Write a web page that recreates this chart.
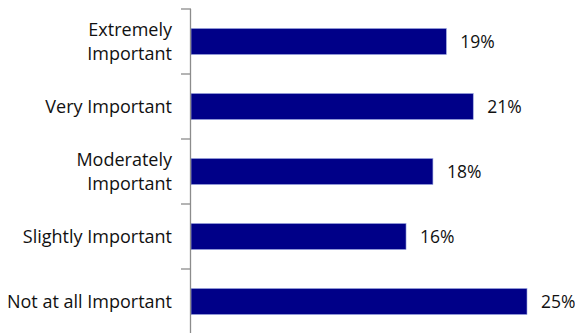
<!DOCTYPE html>
<html>
<head>
<meta charset="utf-8">
<script src="https://cdn.jsdelivr.net/npm/d3@7"></script>
<style>
  body { margin: 0; background: #fff; }
  svg text { font-family: 'Open Sans', sans-serif; fill: #111; }
</style>
</head>
<body>
<div id="chart"></div>
<script>
const categories = [
  ['Extremely', 'Important'],
  ['Very Important'],
  ['Moderately', 'Important'],
  ['Slightly Important'],
  ['Not at all Important'],
];
const values = [19, 21, 18, 16, 25];
const valueLabels = ['19%', '21%', '18%', '16%', '25%'];

const width = 575;
const height = 333;
const margin = { top: 9, right: 48, bottom: -1, left: 191 };

const svg = d3
  .select('#chart')
  .append('svg')
  .attr('width', width)
  .attr('height', height);

const keys = categories.map((c, i) => i);

const y = d3
  .scaleBand()
  .domain(keys)
  .range([margin.top, height - margin.bottom])
  .paddingInner(0.6)
  .paddingOuter(0.3);

const x = d3
  .scaleLinear()
  .domain([0, 25])
  .range([margin.left, width - margin.right]);

// bars
svg
  .selectAll('.bar')
  .data(values)
  .enter()
  .append('rect')
  .attr('class', 'bar')
  .attr('x', x(0))
  .attr('y', (d, i) => y(i))
  .attr('width', (d) => x(d) - x(0))
  .attr('height', y.bandwidth())
  .attr('fill', '#000088')
  .attr('stroke', '#9aa6e0')
  .attr('stroke-width', 0.6);

// value labels
svg
  .selectAll('.val')
  .data(values)
  .enter()
  .append('text')
  .attr('class', 'val')
  .attr('x', (d) => x(d) + 14)
  .attr('y', (d, i) => y(i) + y.bandwidth() / 2)
  .attr('dy', '0.36em')
  .style('font-size', '17.5px')
  .text((d, i) => valueLabels[i]);

// axis line and ticks between categories
const step = y.step();
const axis = svg.append('g').attr('stroke', '#8c8c8c').attr('stroke-width', 1.3);
axis
  .append('line')
  .attr('x1', x(0) - 0.5)
  .attr('x2', x(0) - 0.5)
  .attr('y1', margin.top)
  .attr('y2', height);

const tickYs = d3.range(keys.length + 1).map((i) => margin.top + i * step);
axis
  .selectAll('.tick')
  .data(tickYs)
  .enter()
  .append('line')
  .attr('x1', x(0) - 10)
  .attr('x2', x(0))
  .attr('y1', (d) => d)
  .attr('y2', (d) => d);

// category labels
const lineH = 24;
const cats = svg
  .selectAll('.cat')
  .data(categories)
  .enter()
  .append('text')
  .attr('class', 'cat')
  .attr('text-anchor', 'end')
  .style('font-size', '18px')
  .attr('transform', (d, i) => 'translate(172,' + (y(i) + y.bandwidth() / 2) + ')');

cats
  .selectAll('tspan')
  .data((d) => d.map((t, j) => ({ t, j, n: d.length })))
  .enter()
  .append('tspan')
  .attr('x', 0)
  .attr('y', (d) => (d.j - (d.n - 1) / 2) * lineH)
  .attr('dy', '0.36em')
  .text((d) => d.t);
</script>
</body>
</html>
